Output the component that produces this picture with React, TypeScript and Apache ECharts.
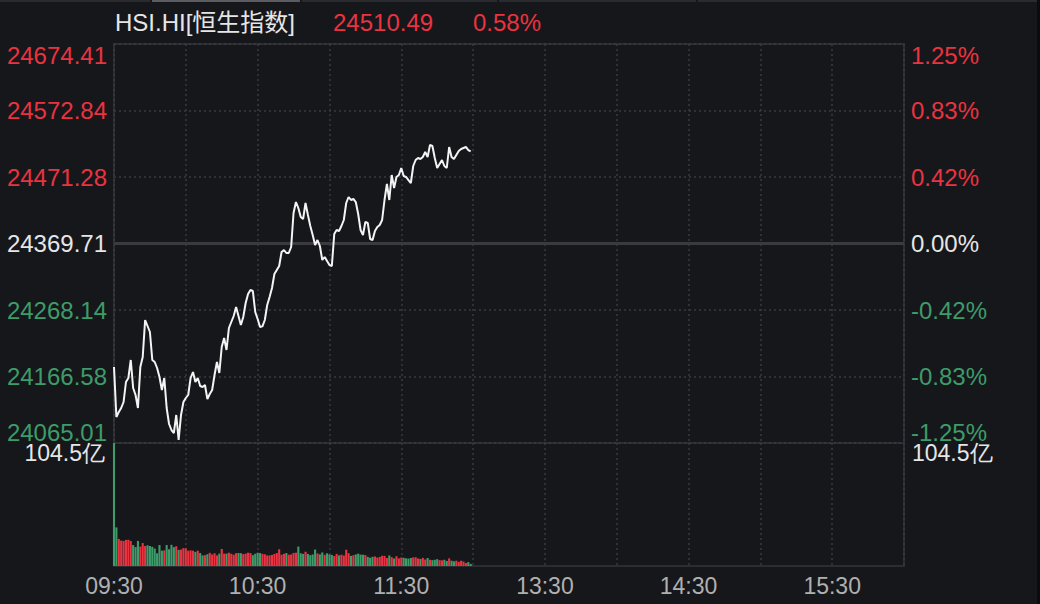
import React, { useEffect, useRef } from 'react';
import * as echarts from 'echarts';

const TITLE = 'HSI.HI[恒生指数]';
const PRE_CLOSE = 24369.71;
const LAST_PRICE_TEXT = '24510.49';
const LAST_CHANGE_TEXT = '0.58%';

const priceTicks = ['24065.01', '24166.58', '24268.14', '24369.71', '24471.28', '24572.84', '24674.41'];
const pctTicks = ['-1.25%', '-0.83%', '-0.42%', '0.00%', '0.42%', '0.83%', '1.25%'];

const SESSION_MINUTES = 330;
const timeTickMinutes = [0, 60, 120, 180, 240, 300];
const timeTickLabels = ['09:30', '10:30', '11:30', '13:30', '14:30', '15:30'];

const VOLUME_MAX = 104.5;
const VOLUME_LABEL = '104.5亿';

const prices = [
  24181.09, 24104.72, 24112.36, 24118.47, 24127.63, 24158.18, 24164.28, 24191.78, 24149.01, 24138.32,
  24118.47, 24181.09, 24196.36, 24252.87, 24243.71, 24234.54, 24191.78, 24188.72, 24179.56, 24165.81,
  24145.96, 24164.28, 24118.47, 24094.03, 24084.86, 24080.28, 24107.77, 24069.59, 24107.77, 24127.63,
  24133.74, 24138.32, 24164.28, 24173.45, 24158.18, 24164.28, 24152.07, 24150.5, 24153.59, 24132.21,
  24139.85, 24145.96, 24168.87, 24188.72, 24171.92, 24211.63, 24225.38, 24207.05, 24240.65, 24249.82,
  24258.98, 24272.72, 24258.98, 24245.23, 24257.45, 24278.83, 24292.58, 24298.69, 24297.16, 24265.09,
  24254.4, 24242.18, 24243.1, 24252.87, 24275.78, 24288.0, 24301.74, 24323.13, 24329.24, 24335.35,
  24356.73, 24359.78, 24355.2, 24355.2, 24364.36, 24416.29, 24433.09, 24423.93, 24410.18, 24407.13,
  24431.57, 24413.24, 24396.44, 24382.69, 24367.42, 24375.06, 24365.89, 24344.51, 24349.09, 24342.98,
  24336.87, 24335.35, 24384.22, 24390.33, 24388.8, 24396.44, 24405.6, 24431.57, 24440.73, 24436.15,
  24437.68, 24433.09, 24414.77, 24390.33, 24382.69, 24402.55, 24401.02, 24376.58, 24375.06, 24388.8,
  24394.91, 24397.97, 24405.6, 24436.15, 24460.59, 24436.15, 24474.33, 24454.48, 24471.28, 24474.33,
  24485.02, 24472.8, 24471.28, 24466.69, 24462.11, 24488.08, 24497.24, 24500.3, 24498.77, 24501.82,
  24509.46, 24501.82, 24520.15, 24518.6, 24500.3, 24485.02, 24491.13, 24497.24, 24488.08, 24485.02,
  24517.1, 24501.82, 24498.77, 24504.88, 24510.99, 24514.04, 24515.57, 24517.1, 24512.51, 24510.49,
];

const volumes = [
  104.5, 32.8, 23.0, 21.6, 21.3, 22.2, 22.2, 21.3, 17.8, 16.1,
  21.3, 16.5, 19.5, 17.0, 17.6, 17.0, 16.3, 14.8, 10.8, 17.8,
  13.0, 13.3, 17.8, 14.2, 18.0, 16.0, 16.8, 13.7, 14.0, 15.2,
  15.0, 13.0, 13.3, 13.0, 12.0, 13.0, 11.0, 9.0, 9.2, 10.0,
  11.2, 9.8, 10.8, 9.0, 10.5, 14.5, 10.5, 10.5, 11.3, 10.4,
  9.6, 10.9, 11.0, 10.9, 10.1, 10.5, 11.3, 11.0, 9.2, 10.5,
  11.3, 11.0, 10.3, 10.0, 9.0, 9.0, 9.4, 10.2, 11.0, 14.2,
  9.6, 10.4, 11.0, 9.6, 9.8, 11.1, 11.3, 16.5, 10.8, 10.3,
  12.1, 10.3, 9.2, 9.8, 14.0, 10.7, 9.9, 11.5, 9.5, 10.8,
  9.8, 9.4, 8.5, 10.3, 9.0, 9.6, 8.9, 13.8, 10.9, 8.6,
  9.2, 9.8, 10.5, 9.7, 9.6, 9.3, 7.8, 7.0, 7.8, 8.1,
  7.2, 7.7, 8.7, 8.6, 6.8, 9.0, 7.5, 6.4, 8.3, 6.5,
  7.2, 7.0, 6.5, 6.3, 6.8, 7.3, 7.5, 6.4, 6.0, 6.9,
  5.5, 6.8, 5.3, 5.0, 5.3, 5.8, 5.0, 4.8, 5.3, 4.3,
  6.5, 4.5, 4.0, 4.5, 3.5, 4.5, 3.8, 2.5, 3.3, 1.8,
];

const BG = '#16171b';
const RED = '#ea3340';
const GREEN = '#3d9c69';
const WHITE = '#e6e6e6';
const GRAY_TEXT = '#b0b0b0';
const BORDER = '#2c2d32';
const DOT = '#3a3b40';
const FONT = 'Liberation Sans, Arial, sans-serif';

export default function App() {
  const ref = useRef<HTMLDivElement>(null);

  useEffect(() => {
    document.body.style.margin = '0';
    document.body.style.background = BG;
    if (!ref.current) return;
    const chart = echarts.init(ref.current, undefined, { renderer: 'svg' });

    const step = (parseFloat(priceTicks[6]) - parseFloat(priceTicks[0])) / 6;
    const lineData = prices.map((p, i) => [i, (p - PRE_CLOSE) / step]);
    const barData = volumes.map((v, i) => {
      const prev = i === 0 ? PRE_CLOSE : prices[i - 1];
      const up = prices[i] >= prev;
      return { value: [i, v], itemStyle: { color: up ? RED : GREEN } };
    });

    const styleName = (idx: number) =>
      idx === 6 ? 'upTop' : idx > 3 ? 'up' : idx === 3 ? 'flat' : idx === 0 ? 'downBot' : 'down';
    const rich = {
      upTop: { color: RED, fontSize: 24, fontFamily: FONT, padding: [22, 0, 0, 0] },
      up: { color: RED, fontSize: 24, fontFamily: FONT },
      flat: { color: WHITE, fontSize: 24, fontFamily: FONT },
      down: { color: GREEN, fontSize: 24, fontFamily: FONT },
      downBot: { color: GREEN, fontSize: 24, fontFamily: FONT, padding: [0, 0, 22, 0] },
      vol: { color: WHITE, fontSize: 23, fontFamily: FONT, padding: [20, 0, 0, 0] },
    };

    const xBase = {
      type: 'value',
      min: 0,
      max: SESSION_MINUTES,
      interval: 30,
      axisLine: { show: false },
      axisTick: { show: false },
      splitLine: { show: true, lineStyle: { color: DOT, width: 1.5, type: [2, 3] } },
    };

    const option = {
      animation: false,
      backgroundColor: BG,
      textStyle: { fontFamily: FONT },
      grid: [
        { left: 114, right: 136, top: 44, height: 399, show: true, borderColor: BORDER, borderWidth: 2, backgroundColor: 'transparent' },
        { left: 114, right: 136, top: 443, height: 123, show: true, borderColor: BORDER, borderWidth: 2, backgroundColor: 'transparent' },
      ],
      xAxis: [
        { ...xBase, gridIndex: 0, axisLabel: { show: false } },
        {
          ...xBase,
          gridIndex: 1,
          axisLabel: {
            show: true,
            color: GRAY_TEXT,
            fontSize: 23,
            fontFamily: FONT,
            margin: 8,
            formatter: (v: number) => {
              const k = timeTickMinutes.indexOf(Math.round(v));
              return k >= 0 ? timeTickLabels[k] : '';
            },
          },
        },
      ],
      yAxis: [
        {
          type: 'value', gridIndex: 0, position: 'left', min: -3, max: 3, interval: 1,
          axisLine: { show: false }, axisTick: { show: false },
          splitLine: { show: true, lineStyle: { color: DOT, width: 1.5, type: [2, 3] } },
          axisLabel: {
            margin: 7,
            formatter: (v: number) => {
              const idx = Math.round(v) + 3;
              return `{${styleName(idx)}|${priceTicks[idx]}}`;
            },
            rich,
          },
        },
        {
          type: 'value', gridIndex: 0, position: 'right', min: -3, max: 3, interval: 1,
          axisLine: { show: false }, axisTick: { show: false }, splitLine: { show: false },
          axisLabel: {
            margin: 7,
            formatter: (v: number) => {
              const idx = Math.round(v) + 3;
              return `{${styleName(idx)}|${pctTicks[idx]}}`;
            },
            rich,
          },
        },
        {
          type: 'value', gridIndex: 1, position: 'left', min: 0, max: VOLUME_MAX, interval: VOLUME_MAX,
          axisLine: { show: false }, axisTick: { show: false }, splitLine: { show: false },
          axisLabel: {
            margin: 9,
            formatter: (v: number) => (Math.abs(v - VOLUME_MAX) < 1e-6 ? `{vol|${VOLUME_LABEL}}` : ''),
            rich,
          },
        },
        {
          type: 'value', gridIndex: 1, position: 'right', min: 0, max: VOLUME_MAX, interval: VOLUME_MAX,
          axisLine: { show: false }, axisTick: { show: false }, splitLine: { show: false },
          axisLabel: {
            margin: 8,
            formatter: (v: number) => (Math.abs(v - VOLUME_MAX) < 1e-6 ? `{vol|${VOLUME_LABEL}}` : ''),
            rich,
          },
        },
      ],
      series: [
        {
          type: 'line',
          xAxisIndex: 0,
          yAxisIndex: 0,
          data: lineData,
          showSymbol: false,
          lineStyle: { color: '#f4f4f4', width: 2 },
          silent: true,
          markLine: {
            silent: true,
            symbol: 'none',
            label: { show: false },
            lineStyle: { color: '#3a3a3f', width: 3, type: 'solid' },
            data: [{ yAxis: 0 }],
          },
          z: 5,
        },
        {
          type: 'bar',
          xAxisIndex: 1,
          yAxisIndex: 2,
          data: barData,
          barWidth: 2.1,
          silent: true,
        },
      ],
      graphic: [
        { type: 'rect', left: 0, top: 0, shape: { width: 150, height: 2 }, style: { fill: '#2a2b2f' } },
        { type: 'rect', left: 152, top: 0, shape: { width: 148, height: 2 }, style: { fill: '#5b5c61' } },
        { type: 'rect', left: 302, top: 0, shape: { width: 195, height: 2 }, style: { fill: '#2a2b2f' } },
        { type: 'rect', left: 499, top: 0, shape: { width: 197, height: 2 }, style: { fill: '#2a2b2f' } },
        { type: 'rect', left: 698, top: 0, shape: { width: 339, height: 2 }, style: { fill: '#2a2b2f' } },
        { type: 'rect', left: 1037, top: 0, shape: { width: 3, height: 604 }, style: { fill: '#0c0c0e' } },
        {
          type: 'text', left: 115, top: 10,
          style: { text: TITLE, fill: WHITE, fontSize: 24, fontFamily: FONT + ', Noto Sans CJK SC' },
        },
        {
          type: 'text', left: 333, top: 10,
          style: { text: LAST_PRICE_TEXT, fill: RED, fontSize: 24, fontFamily: FONT },
        },
        {
          type: 'text', left: 473, top: 10,
          style: { text: LAST_CHANGE_TEXT, fill: RED, fontSize: 24, fontFamily: FONT },
        },
      ],
    };

    chart.setOption(option as any);
    return () => chart.dispose();
  }, []);

  return <div ref={ref} style={{ width: 1040, height: 604, background: BG }} />;
}
